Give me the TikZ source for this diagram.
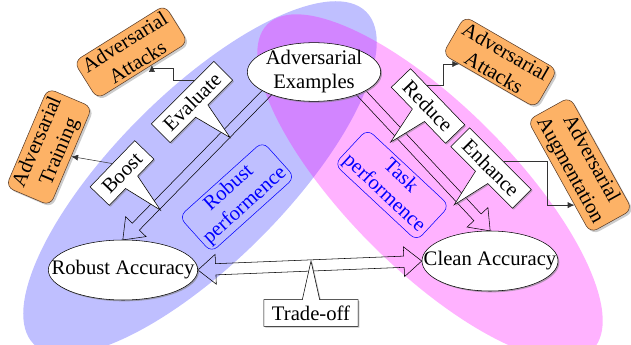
\documentclass[tikz,border=0pt]{standalone}
\usepackage{fontspec}
\setmainfont{Liberation Serif}
\usetikzlibrary{shapes.geometric,shapes.callouts,shapes.arrows,shadows,arrows.meta,calc}

\pgfdeclarelayer{fields}
\pgfdeclarelayer{links}
\pgfsetlayers{fields,links,main}

\tikzset{every picture/.style={line width=0.75pt}}
\tikzset{
  txt/.style={font=\fontsize{15.5}{18}\selectfont},
  fieldblue/.style={fill={rgb, 255:red, 0; green, 0; blue, 255},fill opacity=0.25},
  fieldpink/.style={fill={rgb, 255:red, 255; green, 0; blue, 255},fill opacity=0.3},
  goal/.style={txt,ellipse,draw,fill=white,align=center,
    drop shadow={shadow xshift=1pt,shadow yshift=-1pt,opacity=0.6}},
  method/.style={txt,draw={rgb, 255:red, 90; green, 60; blue, 40},fill={rgb, 255:red, 253; green, 178; blue, 102},
    rounded corners=6pt,align=center,inner xsep=4pt,inner ysep=2pt,
    drop shadow={shadow xshift=1.5pt,shadow yshift=-1.5pt,opacity=0.4}},
  tag/.style={txt,rectangle callout,draw,fill=white,inner xsep=6pt,inner ysep=2pt,
    minimum height=20pt,callout pointer width=13pt,
    drop shadow={shadow xshift=1pt,shadow yshift=-1pt,opacity=0.5}},
  perf/.style={txt,draw=blue,text=blue,rounded corners=6pt,align=center,inner xsep=3pt,inner ysep=2pt},
  flow/.style={draw=black!80,-{Latex[length=5pt,width=4.5pt]}},
  hollow/.style={single arrow,draw,inner xsep=0pt,inner ysep=3.5pt,minimum width=0pt,
    single arrow head extend=7pt,single arrow tip angle=75},
  hollowboth/.style={double arrow,draw,inner xsep=0pt,inner ysep=4pt,minimum width=0pt,
    double arrow head extend=7pt,double arrow tip angle=80}
}

\begin{document}
\begin{tikzpicture}[x=0.75pt,y=0.75pt,yscale=-1,xscale=1]
\useasboundingbox (0,0) rectangle (631,345);

% coloured fields
\begin{pgfonlayer}{fields}
\fill[fieldblue,rotate around={-45:(200,178)}] (200,178) ellipse [x radius=235,y radius=85];
\fill[fieldpink,rotate around={45:(430,187)}] (430,187) ellipse [x radius=230,y radius=82];
\end{pgfonlayer}

% goals
\node[goal,minimum width=100pt,minimum height=44pt,inner sep=-2pt] (ae) at (314,72) {Adversarial\\Examples};
\node[goal,minimum width=112pt,minimum height=45pt,inner xsep=-16pt] (ra) at (123,270) {Robust Accuracy};
\node[goal,minimum width=102pt,minimum height=45pt,inner xsep=-14pt] (ca) at (490,261) {Clean Accuracy};

% methods
\node[method,rotate=32] (aal) at (131,52) {Adversarial\\Attacks};
\node[method,rotate=67] (atl) at (49,147) {Adversarial\\Training};
\node[method,rotate=-30] (aar) at (500,62) {Adversarial\\Attacks};
\node[method,rotate=-61] (agr) at (580,165) {Adversarial\\Augmentation};

% callouts
\node[tag,rotate=45,callout relative pointer={(1pt,-29pt)}] (ev) at (192,102) {Evaluate};
\node[tag,rotate=46,callout relative pointer={(0pt,-30pt)}] (bo) at (122,173) {Boost};
\node[tag,rotate=-46,callout relative pointer={(0pt,-29pt)}] (rd) at (428,106) {Reduce};
\node[tag,rotate=-45,callout relative pointer={(0pt,-29pt)}] (en) at (491,168) {Enhance};
\node[tag,callout relative pointer={(0pt,29pt)}] (to) at (311,313) {Trade-off};

% performance
\node[perf,rotate=42] (rp) at (237,197) {Robust\\performence};
\node[perf,rotate=-43] (tp) at (392,185) {Task\\performence};

% hollow arrows
\coordinate (aeL) at ($(ae.south west)!-4pt!(ra.north)$);
\coordinate (aeR) at ($(ae.south east)!-4pt!(ca.north)$);
\begin{pgfonlayer}{links}
\path let \p1=($(ra.north)-(aeL)$), \n1={veclen(\x1,\y1)}, \n2={atan2(\y1,\x1)} in
  node[hollow,anchor=tail,minimum height=\n1,rotate=-\n2] (lr) at (aeL) {};
\path let \p1=($(ca.north)-(aeR)$), \n1={veclen(\x1,\y1)}, \n2={atan2(\y1,\x1)} in
  node[hollow,anchor=tail,minimum height=\n1,rotate=-\n2] (lc) at (aeR) {};
\path let \p1=($(ca.west)-(ra.east)$), \n1={veclen(\x1,\y1)}, \n2={atan2(\y1,\x1)} in
  node[hollowboth,minimum height=\n1,rotate=-\n2] (lt) at ($(ra.east)!0.5!(ca.west)$) {};
\end{pgfonlayer}

% thin links
\coordinate (evout) at ($(ev.north)!0.4!(ev.north east)$);
\coordinate (aalin) at ($(aal.south)!0.2!(aal.south east)$);
\coordinate (rdout) at ($(rd.north west)!0.3!(rd.north east)$);
\coordinate (aarin) at ($(aar.south west)!0.18!(aar.south east)$);
\coordinate (enout) at ($(en.north west)!0.55!(en.north east)$);
\coordinate (agrin) at ($(agr.south)!0.5!(agr.south east)$);
\draw[flow] (evout) -- ++(-22,0) |- ($(aalin)+(0,3)$) -- (aalin);
\draw[flow] (bo.north) -- (atl.south);
\draw[flow] (rdout) -- ++(16,0) |- (aarin);
\draw[flow] (enout) -- ++(44,0) |- (agrin);

\end{tikzpicture}
\end{document}
